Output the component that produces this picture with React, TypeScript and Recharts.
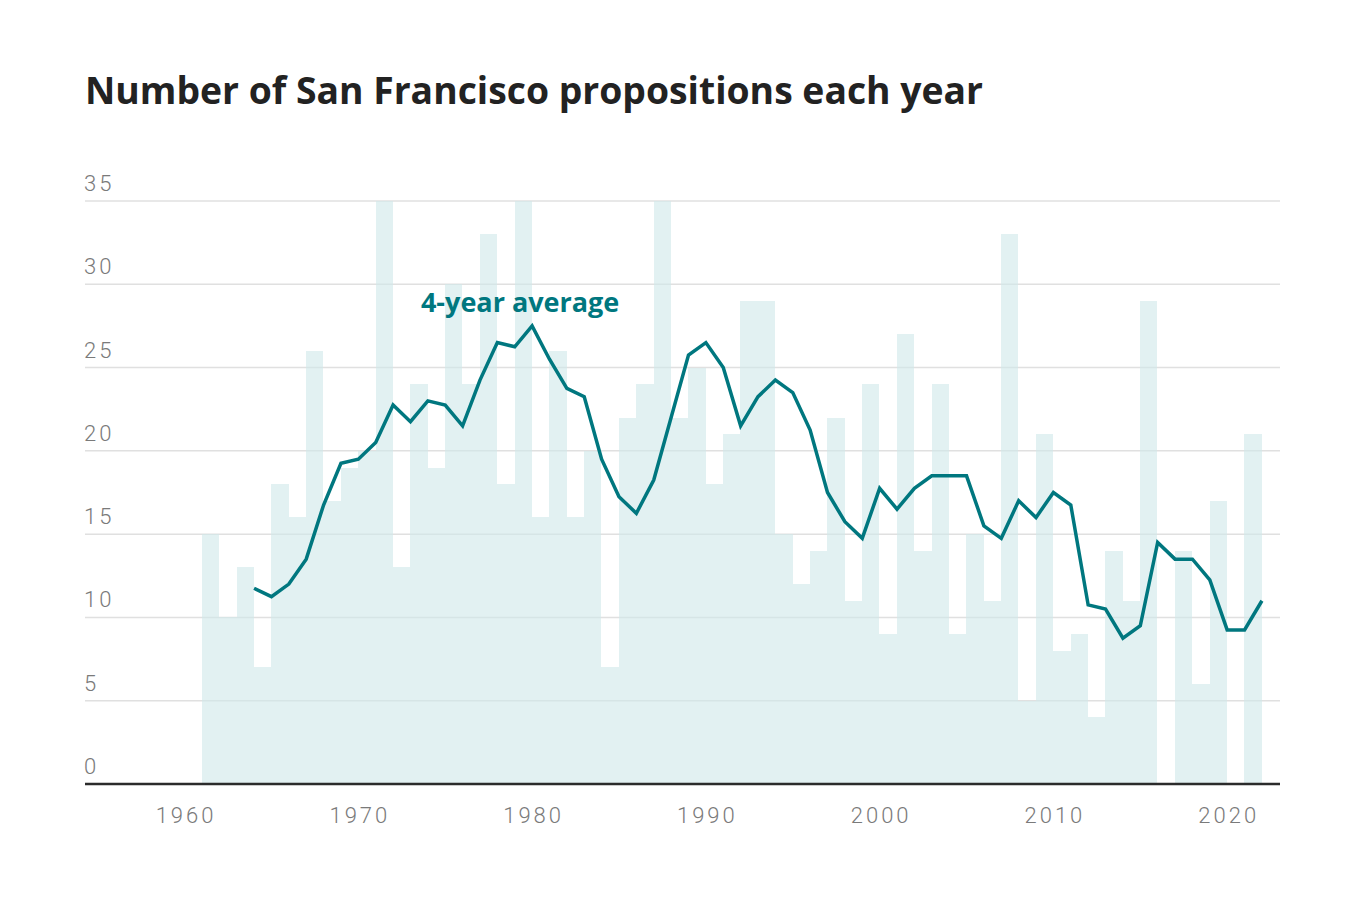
import { ComposedChart, Bar, Line, XAxis, YAxis, CartesianGrid } from 'recharts';

// year of each bar (a bar covers the year that ends at its tick)
const years = [
  1962, 1963, 1964, 1965, 1966, 1967, 1968, 1969, 1970, 1971,
  1972, 1973, 1974, 1975, 1976, 1977, 1978, 1979, 1980, 1981,
  1982, 1983, 1984, 1985, 1986, 1987, 1988, 1989, 1990, 1991,
  1992, 1993, 1994, 1995, 1996, 1997, 1998, 1999, 2000, 2001,
  2002, 2003, 2004, 2005, 2006, 2007, 2008, 2009, 2010, 2011,
  2012, 2013, 2014, 2015, 2016, 2017, 2018, 2019, 2020, 2021,
  2022,
];

// number of propositions
const counts = [
  15, 10, 13, 7, 18, 16, 26, 17, 19, 20,
  35, 13, 24, 19, 30, 24, 33, 18, 35, 16,
  26, 16, 20, 7, 22, 24, 35, 22, 25, 18,
  21, 29, 29, 15, 12, 14, 22, 11, 24, 9,
  27, 14, 24, 9, 15, 11, 33, 5, 21, 8,
  9, 4, 14, 11, 29, 0, 14, 6, 17, 0,
  21,
];

// 4-year average
const averages = [
  null, null, 11.75, 11.25, 12, 13.5, 16.75, 19.25, 19.5, 20.5,
  22.75, 21.75, 23, 22.75, 21.5, 24.25, 26.5, 26.25, 27.5, 25.5,
  23.75, 23.25, 19.5, 17.25, 16.25, 18.25, 22, 25.75, 26.5, 25,
  21.5, 23.25, 24.25, 23.5, 21.25, 17.5, 15.75, 14.75, 17.75, 16.5,
  17.75, 18.5, 18.5, 18.5, 15.5, 14.75, 17, 16, 17.5, 16.75,
  10.75, 10.5, 8.75, 9.5, 14.5, 13.5, 13.5, 12.25, 9.25, 9.25,
  11,
];

const xTicks = [1960, 1970, 1980, 1990, 2000, 2010, 2020];
const yTicks = [0, 5, 10, 15, 20, 25, 30, 35];

const annotationYear = 1980;
const annotationText = '4-year average';

const data = years.map((year, i) => ({ year, count: counts[i], avg: averages[i] }));

const X_DOMAIN: [number, number] = [1954.27, 2023.04];
// bars sit half a year to the left of their tick
const BAR_DOMAIN: [number, number] = [X_DOMAIN[0] + 0.5, X_DOMAIN[1] + 0.5];

const WIDTH = 1351;
const HEIGHT = 897;
const MARGIN = { top: 193, right: 79, bottom: 81, left: 76 };
const Y_AXIS_W = 1;
// one year in pixels (recharts truncates bar widths to whole pixels, so the bars are widened back)
const YEAR_PX = (WIDTH - MARGIN.left - MARGIN.right - Y_AXIS_W) / (X_DOMAIN[1] - X_DOMAIN[0]);

const TEAL = '#00777f';
const GREY = '#7a7a7a';
const TICK_FONT = 'Roboto, sans-serif';
const HEAD_FONT = '"Open Sans", sans-serif';

const YTick = (props: any) => {
  const { x, y, payload } = props;
  return (
    <text x={x - 1} y={y - 10} textAnchor="start" fill={GREY} fontFamily={TICK_FONT}
      fontWeight={300} fontSize={22} letterSpacing={3}>
      {payload.value}
    </text>
  );
};

const XTick = (props: any) => {
  const { x, y, payload } = props;
  return (
    <text x={x + 1.5} y={y + 39} textAnchor="middle" fill={GREY} fontFamily={TICK_FONT}
      fontWeight={300} fontSize={22} letterSpacing={3}>
      {payload.value}
    </text>
  );
};

// full-year bars, edges snapped to whole pixels so neighbours meet without seams
const StepBar = (props: any) => {
  const { x, y, width, height, fill, fillOpacity } = props;
  if (!height) return null;
  const cx = x + width / 2;
  const x0 = Math.round(cx - YEAR_PX / 2);
  const x1 = Math.round(cx + YEAR_PX / 2);
  return (
    <rect x={x0} y={y} width={x1 - x0} height={height} fill={fill} fillOpacity={fillOpacity}
      shapeRendering="crispEdges" />
  );
};

const AvgLabel = (props: any) => {
  const { x, y, index } = props;
  if (years[index] !== annotationYear) return null;
  return (
    <text x={x - 12} y={y - 14} textAnchor="middle" fill={TEAL} fontFamily={HEAD_FONT}
      fontWeight={700} fontSize={27}>
      {annotationText}
    </text>
  );
};

export default function App() {
  return (
    <div style={{ position: 'relative', width: WIDTH, height: HEIGHT, background: '#fff' }}>
      <div
        style={{
          position: 'absolute',
          left: 77,
          top: 63,
          fontFamily: HEAD_FONT,
          fontWeight: 700,
          fontSize: 37.3,
          lineHeight: '38px',
          color: '#222',
          whiteSpace: 'nowrap',
        }}
      >
        Number of San Francisco propositions each year
      </div>
      <div style={{ position: 'absolute', left: 0, top: 0 }}>
        <ComposedChart
          width={WIDTH}
          height={HEIGHT}
          data={data}
          margin={MARGIN}
          barCategoryGap={0}
          barGap={0}
        >
          <CartesianGrid vertical={false} stroke="#e0e0e0" strokeWidth={1.5} />
          <XAxis
            dataKey="year"
            type="number"
            domain={X_DOMAIN}
            allowDataOverflow
            ticks={xTicks}
            interval={0}
            height={40}
            tickSize={0}
            tickMargin={0}
            tickLine={false}
            axisLine={{ stroke: '#2b2b2b', strokeWidth: 2.5 }}
            tick={<XTick />}
          />
          <XAxis xAxisId="bars" dataKey="year" type="number" domain={BAR_DOMAIN} allowDataOverflow hide />
          <YAxis
            type="number"
            domain={[0, 35]}
            ticks={yTicks}
            interval={0}
            width={Y_AXIS_W}
            tickSize={0}
            tickMargin={0}
            tickLine={false}
            axisLine={false}
            tick={<YTick />}
          />
          <Bar
            xAxisId="bars"
            dataKey="count"
            fill="#cfe7ea"
            fillOpacity={0.6}
            shape={<StepBar />}
            isAnimationActive={false}
          />
          <Line
            dataKey="avg"
            type="linear"
            stroke={TEAL}
            strokeWidth={3.5}
            dot={false}
            activeDot={false}
            isAnimationActive={false}
            label={<AvgLabel />}
          />
        </ComposedChart>
      </div>
    </div>
  );
}
